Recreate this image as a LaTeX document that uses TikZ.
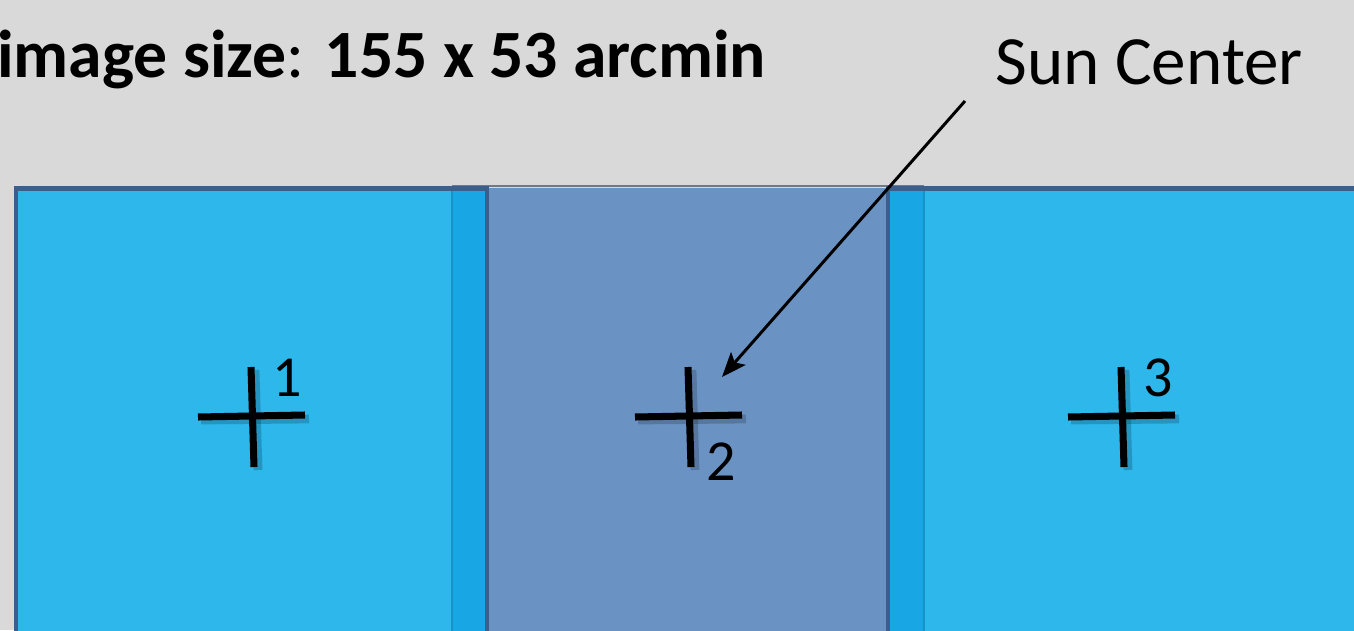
\documentclass[tikz,border=0pt]{standalone}
\usepackage{fontspec}
\setmainfont{Carlito}
\usepackage{xcolor}
\usepackage{tikz}
\usetikzlibrary{arrows.meta,positioning}
\definecolor{panelgray}{RGB}{217,217,217}
\definecolor{skycyan}{RGB}{45,183,235}
\definecolor{deepcyan}{RGB}{24,167,228}
\definecolor{steelblue}{RGB}{106,147,196}
\definecolor{edgeblue}{RGB}{59,94,140}
\tikzset{
  frame/.style   = {draw=edgeblue, line width=2.8pt},
  faint/.style   = {draw=deepcyan!88!black, line width=0.8pt},
  hair/.style    = {black, line width=4pt},
  hairshade/.style = {black, line width=5pt, opacity=0.18},
  tag/.style     = {inner sep=0pt, font=\fontsize{33}{33}\selectfont},
  caption/.style = {inner sep=0pt, anchor=base west, font=\fontsize{38.5}{40}\selectfont},
  pointer/.style = {-{Stealth[length=14pt, width=11pt, inset=3pt]}, line width=1.7pt},
}

\begin{document}
\begin{tikzpicture}[x=0.2mm, y=-0.2mm]
\useasboundingbox (0,0) rectangle (1354,630);
\clip (0,0) rectangle (1354,630);
\fill[panelgray] (0,0) rectangle (1354,630);

% fields of view
\fill[skycyan] (16,188) rectangle (487,700);
\fill[skycyan] (888,188) rectangle (1400,700);
\fill[steelblue] (487,188) rectangle (888,700);
\fill[deepcyan] (452,188) rectangle (487,700);
\fill[deepcyan] (888,188) rectangle (924,700);
\draw[faint] (452,700) -- (452,188);
\draw[faint] (924,700) -- (924,188);
\draw[draw=gray!80!edgeblue, line width=0.8pt] (452,186) -- (924,186);
\draw[frame] (16,700) -- (16,188.5) -- (487,188.5) -- (487,700);
\draw[frame] (888,700) -- (888,188.5) -- (1400,188.5);

% pointing centres
\foreach \n/\cx in {1/252, 2/689, 3/1122} {
  \coordinate (c\n) at (\cx,416);
  \begin{scope}[shift={(c\n)}]
    \draw[hairshade] (-51,4) -- (57,3);
    \draw[hairshade] (3,-46) -- (6,54);
    \draw[hair] (-54,1) -- (53,-1);
    \draw[hair] (-1,-49) -- (2,51);
  \end{scope}
}
\node[tag] (n1) at (287,378) {1};
\node[tag] (n2) at (721,462) {2};
\node[tag] (n3) at (1158,378) {3};

% texts
\node[caption] (size) at (-3,77) {\textbf{image size}: \textbf{155 x 53 arcmin}};
\node[caption, font=\fontsize{39.3}{40}\selectfont] (sun) at (995,84) {Sun Center};
\coordinate (tail) at (965,101);
\coordinate (tip) at (722,377);
\draw[pointer] (tail) -- (tip);
\end{tikzpicture}
\end{document}
